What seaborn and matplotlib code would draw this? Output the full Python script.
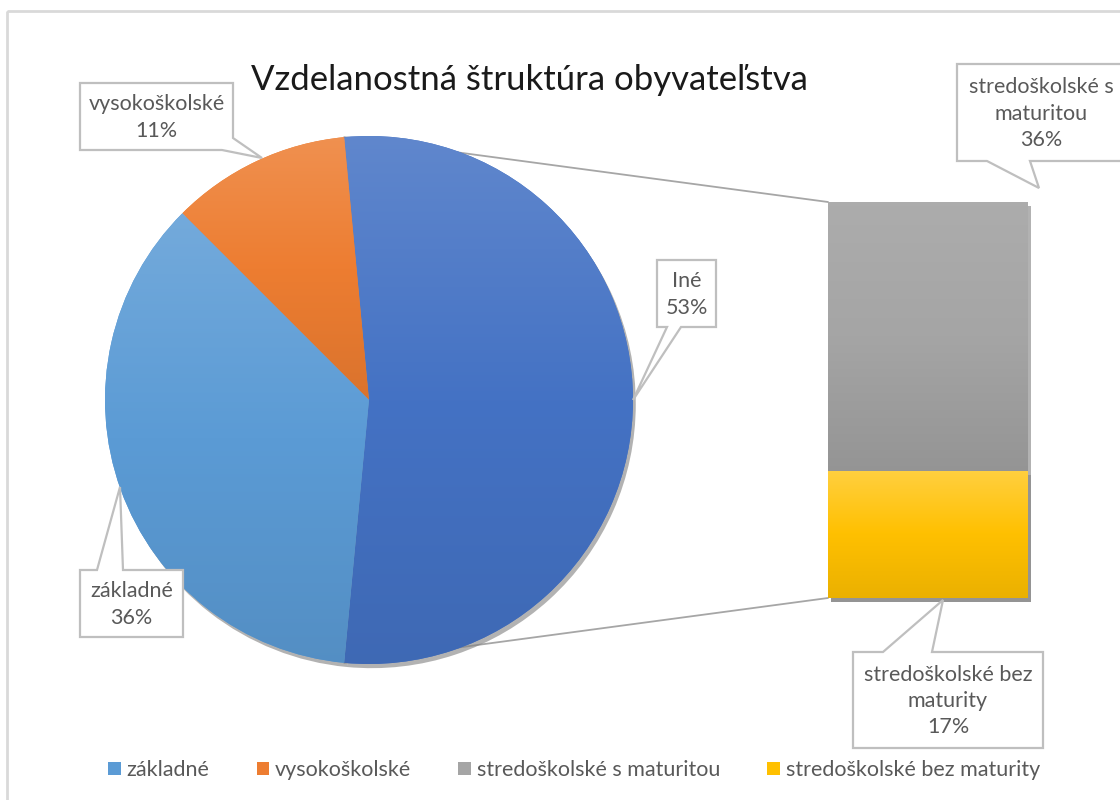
import numpy as np
import matplotlib
matplotlib.use("Agg")
import matplotlib.pyplot as plt
import matplotlib.patheffects as pe
from matplotlib.colors import LinearSegmentedColormap, to_rgb
from matplotlib.patches import Polygon, Rectangle, Patch, ConnectionPatch
import seaborn as sns

# data
title = "Vzdelanostná štruktúra obyvateľstva"
bar_labels = ["stredoškolské s maturitou", "stredoškolské bez maturity"]
bar_values = [36, 17]
pie_labels = ["Iné", "vysokoškolské", "základné"]
pie_values = [sum(bar_values), 11, 36]
legend_labels = ["základné", "vysokoškolské", "stredoškolské s maturitou", "stredoškolské bez maturity"]

pie_colors = ["#4472C4", "#ED7D31", "#5B9BD5"]
bar_colors = ["#A5A5A5", "#FFC000"]
legend_colors = ["#5B9BD5", "#ED7D31", "#A5A5A5", "#FFC000"]

sns.set_theme(style="white")
plt.rcParams["font.family"] = ["Lato", "DejaVu Sans"]

W, H = 1120, 800
fig = plt.figure(figsize=(W / 100, H / 100), dpi=100)


def tint(c, f):
    r = np.array(to_rgb(c))
    return tuple(r + (1 - r) * f)


def shade(c, f):
    r = np.array(to_rgb(c))
    return tuple(r * (1 - f))


def gradient(ax, patch, color, y0, y1, x0, x1, z, top=0.15, bottom=0.08):
    cmap = LinearSegmentedColormap.from_list("g", [tint(color, top), to_rgb(color), shade(color, bottom)])
    img = ax.imshow(np.linspace(0, 1, 256).reshape(-1, 1), cmap=cmap, origin="upper",
                    extent=[x0, x1, y0, y1], aspect="auto", zorder=z, interpolation="bilinear")
    img.set_clip_path(patch)


shadow = [pe.SimplePatchShadow(offset=(2, -3), shadow_rgbFace="#808080", alpha=0.6), pe.Normal()]

# pie
cx, cy, r = 369, 400, 264
ax_pie = fig.add_axes([(cx - r) / W, (H - cy - r) / H, 2 * r / W, 2 * r / H])
wedges, _ = ax_pie.pie(pie_values, colors=pie_colors, startangle=-pie_values[0] / 100 * 180,
                       counterclock=True, wedgeprops=dict(linewidth=0))
for w, c in zip(wedges, pie_colors):
    w.set_zorder(1)
    w.set_clip_on(False)
    w.set_path_effects(shadow)
    v = w.get_path().vertices
    gradient(ax_pie, w, c, v[:, 1].min(), v[:, 1].max(), -1, 1, 2)
ax_pie.set_xlim(-1, 1)
ax_pie.set_ylim(-1, 1)
ax_pie.set_aspect("equal")
ax_pie.axis("off")

# bar of pie
ax_bar = fig.add_axes([828 / W, (H - 598) / H, 200 / W, 396 / H])
total = sum(bar_values)
sns.barplot(x=[0], y=[total], color=bar_colors[0], width=1, saturation=1, ax=ax_bar)
sns.barplot(x=[0], y=[bar_values[1]], color=bar_colors[1], width=1, saturation=1, ax=ax_bar)
gray, yellow = ax_bar.patches[0], ax_bar.patches[1]
for p, z in [(gray, 1), (yellow, 3)]:
    p.set_zorder(z)
    p.set_linewidth(0)
    p.set_clip_on(False)
    p.set_path_effects(shadow)
gradient(ax_bar, gray, bar_colors[0], bar_values[1], total, -0.5, 0.5, 2, top=0.08, bottom=0.1)
gradient(ax_bar, yellow, bar_colors[1], 0, bar_values[1], -0.5, 0.5, 4, top=0.25, bottom=0.08)
ax_bar.set_xlim(-0.5, 0.5)
ax_bar.set_ylim(0, total)
ax_bar.axis("off")

# connector lines
t_top, t_bot = np.radians(wedges[0].theta2), np.radians(wedges[0].theta1)
for (px, py), corner in [((np.cos(t_top), np.sin(t_top)), (0, 1)), ((np.cos(t_bot), np.sin(t_bot)), (0, 0))]:
    con = ConnectionPatch(xyA=(px, py), coordsA=ax_pie.transData, xyB=corner, coordsB=ax_bar.transAxes,
                          color="#A6A6A6", lw=1.3, zorder=0)
    fig.add_artist(con)

# overlay in pixel coords
ov = fig.add_axes([0, 0, 1, 1], zorder=5)
ov.set_xlim(0, W)
ov.set_ylim(H, 0)
ov.axis("off")
ov.patch.set_alpha(0)
ov.add_patch(Rectangle((7, 11), W, H, fill=False, ec="#D9D9D9", lw=2))

ov.text(529, 80, title, ha="center", va="center", fontsize=25, color="#1a1a1a")


def callout(box, tail, text):
    l, t, rr, b = box
    side, a1, a2, tip = tail
    if side == "bottom":
        pts = [(l, t), (rr, t), (rr, b), (a2, b), tip, (a1, b), (l, b)]
    elif side == "top":
        pts = [(l, t), (a1, t), tip, (a2, t), (rr, t), (rr, b), (l, b)]
    else:  # bottom-right corner: a1 on right edge (y), a2 on bottom edge (x)
        pts = [(l, t), (rr, t), (rr, a1), tip, (a2, b), (l, b)]
    ov.add_patch(Polygon(pts, closed=True, fc="white", ec="#BFBFBF", lw=1.6, joinstyle="miter"))
    ov.text((l + rr) / 2, (t + b) / 2 + 1, text, ha="center", va="center", fontsize=15.5,
            color="#595959", linespacing=1.4)


callout((80, 83, 233, 150), ("corner", 138, 222, (262, 158)), f"{pie_labels[1]}\n{pie_values[1]}%")
callout((657, 260, 716, 327), ("bottom", 667, 681, (633, 400)), f"{pie_labels[0]}\n{pie_values[0]}%")
callout((80, 570, 183, 637), ("top", 97, 123, (120, 487)), f"{pie_labels[2]}\n{pie_values[2]}%")
callout((957, 64, 1126, 161), ("bottom", 987, 1030, (1039, 188)), "stredoškolské s\nmaturitou\n" + f"{bar_values[0]}%")
callout((853, 652, 1043, 748), ("top", 883, 932, (943, 600)), "stredoškolské bez\nmaturity\n" + f"{bar_values[1]}%")

# legend
handles = [Patch(facecolor=c, edgecolor="none") for c in legend_colors]
fig.legend(handles, legend_labels, loc="center", bbox_to_anchor=(574 / W, 1 - 770 / H), ncol=4,
           frameon=False, fontsize=15.5, labelcolor="#595959", handlelength=0.6, handleheight=0.6,
           handletextpad=0.25, columnspacing=2.2)

fig.savefig("out.png", dpi=100)
